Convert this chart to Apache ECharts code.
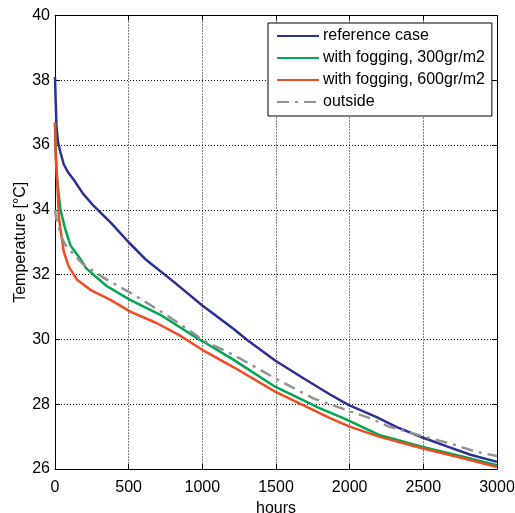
<!DOCTYPE html>
<html>
<head>
<meta charset="utf-8">
<script src="https://cdn.jsdelivr.net/npm/echarts@6/dist/echarts.min.js"></script>
<style>
html,body{margin:0;padding:0;background:#fff;}
#c{width:515px;height:513px;}
</style>
</head>
<body>
<div id="c"></div>
<script>
var seriesNames = ['reference case', 'with fogging, 300gr/m2', 'with fogging, 600gr/m2', 'outside'];

var refHours = [0, 5, 10, 20, 37, 60, 90, 127, 190, 263, 380, 500, 620, 800, 1000, 1213, 1300, 1494, 1686, 1867, 1991, 2183, 2320, 2490, 2660, 2820, 3000];
var refTemp  = [38.1, 37.3, 36.6, 36.1, 35.77, 35.4, 35.15, 34.93, 34.5, 34.12, 33.6, 33.0, 32.45, 31.8, 31.05, 30.32, 30.0, 29.35, 28.8, 28.3, 27.98, 27.6, 27.29, 26.98, 26.7, 26.44, 26.22];

var fog300Hours = [0, 5, 15, 37, 70, 105, 170, 210, 350, 510, 715, 960, 1000, 1213, 1494, 1799, 1957, 2200, 2490, 2770, 3000];
var fog300Temp  = [36.7, 35.8, 34.9, 34.0, 33.4, 32.9, 32.5, 32.2, 31.65, 31.22, 30.76, 30.05, 29.95, 29.37, 28.54, 27.87, 27.57, 27.05, 26.69, 26.38, 26.12];

var fog600Hours = [0, 5, 15, 26, 37, 60, 93, 150, 240, 376, 511, 692, 840, 1000, 1213, 1494, 1867, 2000, 2200, 2490, 2770, 3000];
var fog600Temp  = [36.7, 35.6, 34.9, 33.8, 33.4, 32.7, 32.25, 31.84, 31.53, 31.22, 30.86, 30.5, 30.14, 29.68, 29.14, 28.39, 27.57, 27.31, 27.0, 26.64, 26.33, 26.06];

var outsideHours = [0, 10, 50, 71, 140, 195, 354, 534, 737, 940, 1000, 1213, 1494, 1753, 1991, 2137, 2260, 2480, 2680, 2860, 3000];
var outsideTemp  = [34.0, 33.7, 33.1, 32.92, 32.56, 32.3, 31.84, 31.38, 30.81, 30.19, 29.98, 29.52, 28.8, 28.18, 27.8, 27.57, 27.32, 27.03, 26.79, 26.53, 26.4];

var xTicks = [0, 500, 1000, 1500, 2000, 2500, 3000];
var yTicks = [26, 28, 30, 32, 34, 36, 38, 40];

function pairs(h, t) { return h.map(function (v, i) { return [v, t[i]]; }); }

var chart = echarts.init(document.getElementById('c'), null, {renderer: 'canvas'});
var font = 'Liberation Sans, Arial, Helvetica, sans-serif';
var gridLine = {show: true, lineStyle: {color: '#000', width: 1, type: [1, 2]}};
var axisLine = {show: true, onZero: false, lineStyle: {color: '#000', width: 1}};
var tick = {show: true, inside: true, length: 5, lineStyle: {color: '#000'}};

chart.setOption({
  animation: false,
  backgroundColor: '#fff',
  grid: {left: 55, right: 18, top: 15.5, bottom: 44, containLabel: false, outerBoundsMode: 'none'},
  legend: {
    orient: 'vertical',
    left: 268, top: 23,
    padding: [5, 7, 6, 8],
    itemWidth: 42, itemHeight: 14, itemGap: 6,
    borderColor: '#000', borderWidth: 1,
    backgroundColor: '#fff',
    itemStyle: {opacity: 0},
    textStyle: {fontFamily: font, fontSize: 16, color: '#000', padding: [0, 0, 0, -1]},
    data: seriesNames
  },
  xAxis: [{
    type: 'value', min: 0, max: 3000, interval: 500,
    name: 'hours', nameLocation: 'middle', nameGap: 29,
    nameTextStyle: {fontFamily: font, fontSize: 16, color: '#000'},
    axisLine: axisLine, axisTick: tick,
    axisLabel: {fontFamily: font, fontSize: 16, color: '#000', margin: 11,
      formatter: function (v) { return xTicks.indexOf(v) >= 0 ? String(v) : ''; }},
    splitLine: gridLine
  }, {
    type: 'value', position: 'top', min: 0, max: 3000, interval: 500,
    axisLine: axisLine, axisTick: tick, axisLabel: {show: false}, splitLine: {show: false}
  }],
  yAxis: [{
    type: 'value', min: 26, max: 40, interval: 2,
    name: 'Temperature [°C]', nameLocation: 'middle', nameGap: 26, nameMoveOverlap: false,
    nameTextStyle: {fontFamily: font, fontSize: 16, color: '#000'},
    axisLine: axisLine, axisTick: tick,
    axisLabel: {fontFamily: font, fontSize: 16, color: '#000', margin: 5,
      formatter: function (v) { return yTicks.indexOf(v) >= 0 ? String(v) : ''; }},
    splitLine: gridLine
  }, {
    type: 'value', position: 'right', min: 26, max: 40, interval: 2,
    axisLine: axisLine, axisTick: tick, axisLabel: {show: false}, splitLine: {show: false}
  }],
  series: [
    {name: seriesNames[0], type: 'line', data: pairs(refHours, refTemp), symbol: 'none',
      lineStyle: {color: '#2B3192', width: 2.5}, itemStyle: {color: '#2B3192'}},
    {name: seriesNames[1], type: 'line', data: pairs(fog300Hours, fog300Temp), symbol: 'none',
      lineStyle: {color: '#00A650', width: 2.5}, itemStyle: {color: '#00A650'}},
    {name: seriesNames[2], type: 'line', data: pairs(fog600Hours, fog600Temp), symbol: 'none',
      lineStyle: {color: '#F04B23', width: 2.5}, itemStyle: {color: '#F04B23'}},
    {name: seriesNames[3], type: 'line', data: pairs(outsideHours, outsideTemp), symbol: 'none',
      lineStyle: {color: '#939393', width: 2.5, type: [12, 6, 3, 6]}, itemStyle: {color: '#939393'}}
  ]
});
</script>
</body>
</html>
